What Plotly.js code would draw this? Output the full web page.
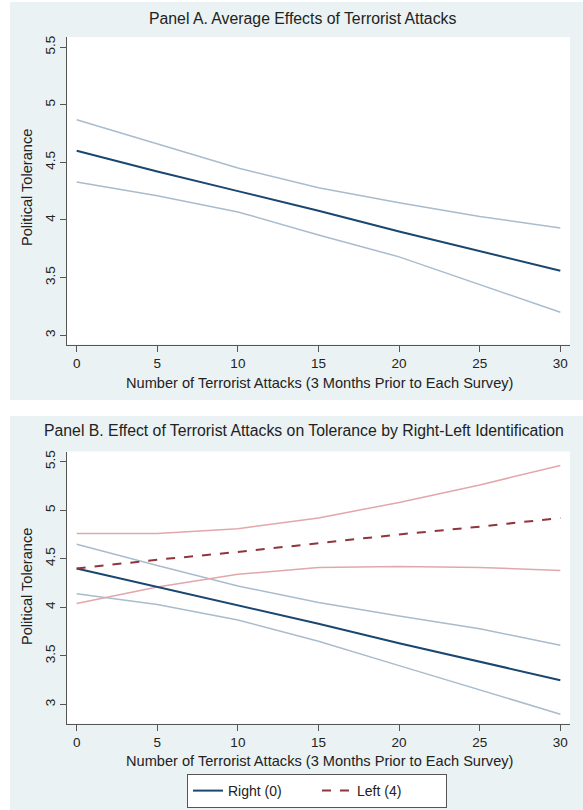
<!DOCTYPE html>
<html>
<head>
<meta charset="utf-8">
<script src="https://cdn.plot.ly/plotly-3.0.1.min.js"></script>
<style>html,body{margin:0;padding:0;background:#fff;}#chart{width:583px;height:810px;}</style>
</head>
<body>
<div id="chart"></div>
<script>
// Number of terrorist attacks (x values)
const attacks = [0, 5, 10, 15, 20, 25, 30];
const xTicks = [0, 5, 10, 15, 20, 25, 30];
const yTicks = [3, 3.5, 4, 4.5, 5, 5.5];

// Panel A: average effect with 95% CI
const aFit = [4.60, 4.42, 4.25, 4.08, 3.90, 3.73, 3.56];
const aHi  = [4.87, 4.66, 4.45, 4.28, 4.15, 4.03, 3.93];
const aLo  = [4.33, 4.21, 4.07, 3.87, 3.68, 3.44, 3.20];

// Panel B: Right (0)
const rFit = [4.40, 4.21, 4.02, 3.83, 3.63, 3.44, 3.25];
const rHi  = [4.65, 4.43, 4.22, 4.05, 3.91, 3.78, 3.61];
const rLo  = [4.14, 4.03, 3.87, 3.65, 3.40, 3.15, 2.90];
// Panel B: Left (4)
const lFit = [4.40, 4.49, 4.57, 4.66, 4.75, 4.83, 4.92];
const lHi  = [4.76, 4.76, 4.81, 4.92, 5.08, 5.26, 5.46];
const lLo  = [4.04, 4.21, 4.34, 4.41, 4.42, 4.41, 4.38];

const W = 583, H = 810;
const NAVY = '#1a476f', MAROON = '#90353b', CIBLUE = '#a9bccd', CIPINK = '#e2a7ab';
const px = v => v / W, py = v => 1 - v / H;

function line(x, y, color, width, dash, xa, ya, name, show) {
  return {x: x, y: y, type: 'scatter', mode: 'lines', name: name || '',
    showlegend: !!show, hoverinfo: 'skip',
    line: {color: color, width: width, dash: dash || 'solid'}, xaxis: xa, yaxis: ya};
}

const data = [
  line(attacks, aHi, CIBLUE, 1.5, 'solid', 'x', 'y'),
  line(attacks, aLo, CIBLUE, 1.5, 'solid', 'x', 'y'),
  line(attacks, aFit, NAVY, 2, 'solid', 'x', 'y'),
  line(attacks, rHi, CIBLUE, 1.5, 'solid', 'x2', 'y2'),
  line(attacks, rLo, CIBLUE, 1.5, 'solid', 'x2', 'y2'),
  line(attacks, lHi, CIPINK, 1.5, 'solid', 'x2', 'y2'),
  line(attacks, lLo, CIPINK, 1.5, 'solid', 'x2', 'y2'),
  line(attacks, rFit, NAVY, 2, 'solid', 'x2', 'y2', 'Right (0)', true),
  line(attacks, lFit, MAROON, 2, 'dash', 'x2', 'y2', 'Left (4)', true)
];

const font = {family: '"Liberation Sans", Arial, sans-serif', color: '#222'};
function xax(anchor, dom) {
  return {domain: dom, anchor: anchor, range: [-0.6, 30.6], tickvals: xTicks,
    ticks: 'outside', ticklen: 6, tickcolor: '#555', showline: true, linecolor: '#555',
    linewidth: 1, showgrid: false, zeroline: false, tickfont: {size: 13.5, color: '#222'}, fixedrange: true};
}
function yax(anchor, dom, rng) {
  return {domain: dom, anchor: anchor, range: rng, tickvals: yTicks, tickangle: -90,
    ticks: 'outside', ticklen: 6, tickcolor: '#555', showline: true, linecolor: '#555',
    linewidth: 1, showgrid: false, zeroline: false, tickfont: {size: 13.5, color: '#222'}, fixedrange: true};
}
const xDom = [px(67), px(570)];
const layout = {
  width: W, height: H, margin: {l: 0, r: 0, t: 0, b: 0},
  paper_bgcolor: '#eaf2f3', plot_bgcolor: '#ffffff', font: font,
  xaxis: xax('y', xDom),
  yaxis: yax('x', [py(344.5), py(37)], [2.92, 5.587]),
  xaxis2: xax('y2', xDom),
  yaxis2: yax('x2', [py(723.5), py(451.5)], [2.804, 5.604]),
  showlegend: true,
  legend: {orientation: 'h', x: px(317), xanchor: 'center', y: py(791), yanchor: 'middle',
    bgcolor: '#ffffff', bordercolor: '#555', borderwidth: 1, font: {size: 14, color: '#222'},
    traceorder: 'normal', entrywidth: 84},
  shapes: [
    {type: 'rect', xref: 'paper', yref: 'paper', x0: 0, x1: px(10), y0: 0, y1: 1, fillcolor: '#fff', line: {width: 0}, layer: 'below'},
    {type: 'rect', xref: 'paper', yref: 'paper', x0: 0, x1: 1, y0: py(416), y1: py(400), fillcolor: '#fff', line: {width: 0}, layer: 'below'},
    {type: 'rect', xref: 'paper', yref: 'paper', x0: 0, x1: 1, y0: py(2), y1: 1, fillcolor: '#fff', line: {width: 0}, layer: 'below'}
  ],
  annotations: [
    {text: 'Panel A. Average Effects of Terrorist Attacks', x: px(302), y: py(18), xref: 'paper', yref: 'paper', showarrow: false, xanchor: 'center', yanchor: 'middle', font: {size: 15.8, color: '#222'}},
    {text: 'Panel B. Effect of Terrorist Attacks on Tolerance by Right-Left Identification', x: px(304), y: py(430), xref: 'paper', yref: 'paper', showarrow: false, xanchor: 'center', yanchor: 'middle', font: {size: 15.8, color: '#222'}},
    {text: 'Number of Terrorist Attacks (3 Months Prior to Each Survey)', x: px(319), y: py(383), xref: 'paper', yref: 'paper', showarrow: false, xanchor: 'center', yanchor: 'middle', font: {size: 14.6, color: '#222'}},
    {text: 'Number of Terrorist Attacks (3 Months Prior to Each Survey)', x: px(319), y: py(761), xref: 'paper', yref: 'paper', showarrow: false, xanchor: 'center', yanchor: 'middle', font: {size: 14.6, color: '#222'}},
    {text: 'Political Tolerance', x: px(27), y: py(188), xref: 'paper', yref: 'paper', showarrow: false, textangle: -90, xanchor: 'center', yanchor: 'middle', font: {size: 14.6, color: '#222'}},
    {text: 'Political Tolerance', x: px(27), y: py(587), xref: 'paper', yref: 'paper', showarrow: false, textangle: -90, xanchor: 'center', yanchor: 'middle', font: {size: 14.6, color: '#222'}}
  ]
};
Plotly.newPlot('chart', data, layout, {displayModeBar: false, staticPlot: true});
</script>
</body>
</html>
